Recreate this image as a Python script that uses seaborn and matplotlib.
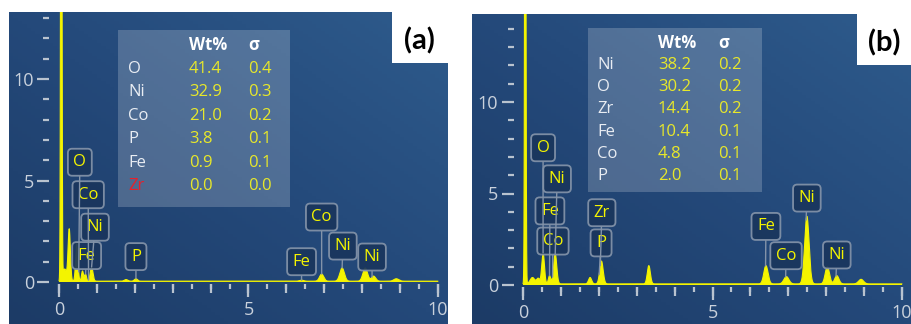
import numpy as np
import matplotlib
matplotlib.use("Agg")
import matplotlib.pyplot as plt
import seaborn as sns
from matplotlib.ticker import MultipleLocator, FixedLocator
from matplotlib.patches import Rectangle
from matplotlib.colors import LinearSegmentedColormap

# ---------------- data ----------------
# Spectrum (a): peak energies (keV), heights (cps/eV) and widths
peak_energy_a = [0.06, 0.15, 0.27, 0.47, 0.62, 0.70, 0.86, 1.77, 2.03, 6.40, 6.93, 7.47, 8.08, 8.30, 8.90]
peak_height_a = [40.0, 0.6, 2.55, 1.85, 0.5, 0.35, 0.7, 0.08, 0.12, 0.05, 0.35, 0.65, 0.65, 0.25, 0.12]
peak_width_a = [0.015, 0.05, 0.03, 0.03, 0.025, 0.025, 0.035, 0.045, 0.04, 0.055, 0.055, 0.06, 0.06, 0.055, 0.065]

# Spectrum (b)
peak_energy_b = [0.06, 0.25, 0.40, 0.53, 0.70, 0.85, 1.77, 2.07, 3.32, 6.41, 6.95, 7.49, 8.03, 8.28, 8.92]
peak_height_b = [40.0, 0.35, 0.3, 1.7, 0.45, 1.65, 0.35, 1.25, 1.0, 1.0, 0.4, 3.7, 0.95, 0.45, 0.25]
peak_width_b = [0.015, 0.06, 0.04, 0.035, 0.03, 0.04, 0.04, 0.045, 0.04, 0.055, 0.065, 0.058, 0.055, 0.055, 0.065]

baseline_a = 0.04
baseline_b = 0.06

# Quantification tables
elements_a = ["O", "Ni", "Co", "P", "Fe", "Zr"]
wt_a = [41.4, 32.9, 21.0, 3.8, 0.9, 0.0]
sigma_a = [0.4, 0.3, 0.2, 0.1, 0.1, 0.0]

elements_b = ["Ni", "O", "Zr", "Fe", "Co", "P"]
wt_b = [38.2, 30.2, 14.4, 10.4, 4.8, 2.0]
sigma_b = [0.2, 0.2, 0.2, 0.1, 0.1, 0.1]

# Peak labels: element and the line energy they point to
label_el_a = ["Fe", "Ni", "Co", "O", "P", "Fe", "Co", "Ni", "Ni"]
label_e_a = [0.70, 0.86, 0.78, 0.52, 2.03, 6.40, 6.93, 7.47, 8.26]
label_el_b = ["Co", "Fe", "Ni", "O", "P", "Zr", "Fe", "Co", "Ni", "Ni"]
label_e_b = [0.78, 0.70, 0.85, 0.53, 2.01, 2.04, 6.40, 6.93, 7.47, 8.26]

# ---------------- layout / style ----------------
W, H = 912, 324
YELLOW = "#f4f400"
TICK = "#b9c3cf"
TXT = "#c9d1dc"

sns.set_theme(style="white")
plt.rcParams["font.family"] = ["Open Sans", "DejaVu Sans"]

fig = plt.figure(figsize=(W / 100, H / 100), dpi=100)


def frect(x0, y0, x1, y1):
    return [x0 / W, 1 - y1 / H, (x1 - x0) / W, (y1 - y0) / H]


def fx(x):
    return x / W


def fy(y):
    return 1 - y / H


grad_cmap = LinearSegmentedColormap.from_list("bg", ["#1c3b66", "#24497a", "#2e5b8c"])
grad = np.add.outer(np.linspace(0, 1, 100), np.linspace(0, 1, 100)) / 2.0


def spectrum(energy, pe, ph, pw, base):
    y = np.full_like(energy, base)
    for e, h, w in zip(pe, ph, pw):
        y += h * np.exp(-0.5 * ((energy - e) / w) ** 2)
    return y


def panel(panel_px, ax_px, x0px, scale_x, y0px, scale_y, pe, ph, pw, base,
          tag, tag_box, table_px, table_rows, label_el, label_e, label_pos):
    # background with gradient
    bg = fig.add_axes(frect(*panel_px))
    bg.imshow(grad, cmap=grad_cmap, extent=[0, 1, 0, 1], aspect="auto", origin="lower")
    bg.set_axis_off()
    bx0, by0, bx1, by1 = tag_box
    bg.add_patch(Rectangle((bx0, by0), bx1 - bx0, by1 - by0, transform=bg.transAxes,
                           fc="white", ec="none", zorder=3))
    bg.text((bx0 + bx1) / 2, (by0 + by1) / 2 - 0.01, tag, transform=bg.transAxes, ha="center",
            va="center", fontsize=21, fontweight="bold", family=["Lato", "DejaVu Sans"],
            color="black", zorder=4)

    ax = fig.add_axes(frect(*ax_px))
    ax.set_facecolor("none")
    l, t, r, b = ax_px[0], ax_px[1], ax_px[2], ax_px[3]
    xlim = ((l - x0px) / scale_x, (r - x0px) / scale_x)
    ylim = ((y0px - b) / scale_y, (y0px - t) / scale_y)

    energy = np.linspace(0, 10, 4001)
    counts = spectrum(energy, pe, ph, pw, base)
    sns.lineplot(x=energy, y=counts, ax=ax, color=YELLOW, lw=0.8, zorder=3)
    ax.fill_between(energy, 0, counts, color=YELLOW, lw=0, zorder=3)
    ax.set_xlim(xlim)
    ax.set_ylim(ylim)
    for s in ax.spines.values():
        s.set_visible(False)

    # y ticks
    ax.yaxis.set_major_locator(FixedLocator([0, 5, 10]))
    ax.yaxis.set_minor_locator(MultipleLocator(1))
    ax.tick_params(axis="y", which="major", direction="out", length=9, width=1.6,
                   color=TICK, labelcolor=TXT, labelsize=13, pad=2, left=True)
    ax.tick_params(axis="y", which="minor", direction="out", length=4, width=1.6,
                   color=TICK, left=True)
    # x ticks
    ax.xaxis.set_major_locator(FixedLocator([0, 5, 10]))
    ax.xaxis.set_minor_locator(MultipleLocator(0.5))
    ax.tick_params(axis="x", which="major", direction="out", length=9.5, width=1.6,
                   color=TICK, labelcolor=TXT, labelsize=13, pad=3, bottom=True)
    ax.tick_params(axis="x", which="minor", direction="out", length=3.5, width=1.6,
                   color=TICK, bottom=True)
    sec = ax.secondary_xaxis("bottom")
    sec.set_xticks(np.arange(0, 11, 1))
    sec.tick_params(axis="x", direction="out", length=6.5, width=1.6, color=TICK,
                    labelbottom=False)
    sec.spines["bottom"].set_visible(False)
    ax.set_xlabel("")
    ax.set_ylabel("")

    # table
    tx0, ty0, tx1, ty1, hy, ry0, rdy, c1, c2, c3 = table_px
    fig.add_artist(Rectangle((fx(tx0), fy(ty1)), (tx1 - tx0) / W, (ty1 - ty0) / H,
                             transform=fig.transFigure, fc="white", alpha=0.2, ec="none",
                             zorder=5))
    fig.text(fx(c2), fy(hy), "Wt%", color="white", fontsize=12, fontweight="bold",
             va="center", ha="left", zorder=6)
    fig.text(fx(c3), fy(hy), "σ", color="white", fontsize=12, fontweight="bold",
             va="center", ha="left", zorder=6)
    els, wts, sigs = table_rows
    for i, (el, w_, s_) in enumerate(zip(els, wts, sigs)):
        yy = fy(ry0 + i * rdy)
        elc = "#e8202a" if (w_ == 0.0) else "#e9edf3"
        fig.text(fx(c1), yy, el, color=elc, fontsize=12, va="center", ha="left", zorder=6)
        fig.text(fx(c2), yy, f"{w_:.1f}", color="#e8e82a", fontsize=12, va="center",
                 ha="left", zorder=6)
        fig.text(fx(c3), yy, f"{s_:.1f}", color="#e8e82a", fontsize=12, va="center",
                 ha="left", zorder=6)

    # peak labels
    for el, e, (lx, ly) in zip(label_el, label_e, label_pos):
        yv = float(np.interp(e, energy, counts))
        yv = min(yv, ylim[1])
        ax.annotate(el, xy=(e, yv), xytext=(lx, ly), textcoords="data",
                    ha="center", va="center", color=YELLOW, fontsize=12, zorder=8,
                    bbox=dict(boxstyle="round,pad=0.33,rounding_size=0.25", fc="#1a365d",
                              ec="#8393a9", lw=1.3, alpha=0.93),
                    arrowprops=dict(arrowstyle="-", color="#8393a9", lw=1.0,
                                    shrinkA=0, shrinkB=0))
    return ax


# label text positions (data units)
pos_a = [(0.73, 1.3), (0.95, 2.7), (0.77, 4.3), (0.55, 5.9), (2.03, 1.25),
         (6.40, 1.0), (6.93, 3.2), (7.49, 1.77), (8.26, 1.23)]
pos_b = [(0.79, 2.4), (0.71, 4.05), (0.90, 5.8), (0.53, 7.5), (2.06, 2.3), (2.08, 3.95),
         (6.41, 3.2), (6.94, 1.6), (7.49, 4.75), (8.28, 1.64)]

panel(panel_px=(9, 12, 448, 324), ax_px=(49.5, 12, 441.8, 284),
      x0px=59, scale_x=37.9, y0px=282, scale_y=20.3,
      pe=peak_energy_a, ph=peak_height_a, pw=peak_width_a, base=baseline_a,
      tag="(a)", tag_box=(0.872, 0.837, 1.0, 1.0),
      table_px=(118, 30, 290, 207, 45, 69, 23.4, 128, 189, 248),
      table_rows=(elements_a, wt_a, sigma_a),
      label_el=label_el_a, label_e=label_e_a, label_pos=pos_a)

panel(panel_px=(472, 14, 912, 324), ax_px=(513.5, 14, 906, 287),
      x0px=523, scale_x=37.9, y0px=285, scale_y=18.3,
      pe=peak_energy_b, ph=peak_height_b, pw=peak_width_b, base=baseline_b,
      tag="(b)", tag_box=(0.875, 0.835, 1.0, 1.0),
      table_px=(588, 28, 762, 192, 43, 65, 22.2, 597, 658, 718),
      table_rows=(elements_b, wt_b, sigma_b),
      label_el=label_el_b, label_e=label_e_b, label_pos=pos_b)

fig.savefig("out.png", dpi=100, facecolor="white")
